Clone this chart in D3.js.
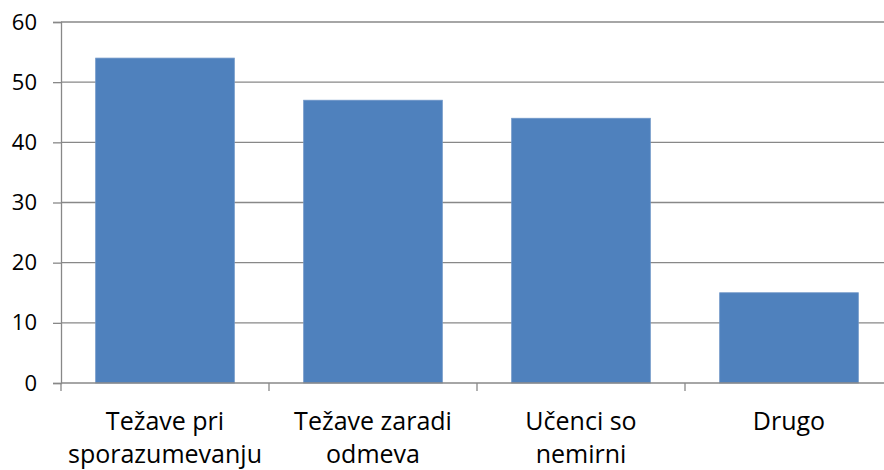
<!DOCTYPE html>
<html>
<head>
<meta charset="utf-8">
<script src="https://cdnjs.cloudflare.com/ajax/libs/d3/7.8.5/d3.min.js"></script>
<style>
  body { margin: 0; background: #fff; }
  text { font-family: "Open Sans", sans-serif; fill: #000; }
</style>
</head>
<body>
<div id="viz"></div>
<script>
// chart data
var categories = [["Težave pri", "sporazumevanju"], ["Težave zaradi", "odmeva"], ["Učenci so", "nemirni"], ["Drugo"]];
var values = [54, 47, 44, 15];
var yTicks = [0, 10, 20, 30, 40, 50, 60];

var margin = {top: 22, right: -9, bottom: 87, left: 61},
    width = 884 - margin.left - margin.right,
    height = 470 - margin.top - margin.bottom;

var svg = d3.select('#viz').append('svg')
    .attr("width", 884)
    .attr("height", 470);

var g = svg.append("g")
    .attr("transform", "translate(" + margin.left + "," + margin.top + ")");

var x = d3.scaleBand()
    .domain(d3.range(categories.length))
    .range([0, width])
    .paddingInner(1 / 3)
    .paddingOuter(1 / 6);

var y = d3.scaleLinear()
    .domain([0, 60])
    .range([height, 0]);

// gridlines
g.selectAll(".grid")
    .data(yTicks.slice(1))
    .enter().append("line")
    .attr("x1", 0)
    .attr("x2", width)
    .attr("y1", function(d) { return y(d); })
    .attr("y2", function(d) { return y(d); })
    .attr("stroke", "#888")
    .attr("stroke-width", 1.3);

// bars
g.selectAll("rect")
    .data(values)
    .enter().append("rect")
    .attr("x", function(d, i) { return x(i); })
    .attr("width", x.bandwidth())
    .attr("y", function(d) { return y(d); })
    .attr("height", function(d) { return height - y(d); })
    .attr("fill", "#4f81bd")
    .attr("stroke", "#6f96c8")
    .attr("stroke-width", 0.8);

// y axis
var yAxis = g.append("g")
    .call(d3.axisLeft(y).tickValues(yTicks).tickSize(8).tickPadding(16));
yAxis.select(".domain").attr("stroke", "#888").attr("stroke-width", 1.3);
yAxis.selectAll(".tick line").attr("stroke", "#888").attr("stroke-width", 1.3);
yAxis.selectAll("text")
    .style("font-size", "22px")
    .style("font-family", "'Open Sans', sans-serif")
    .attr("fill", "#000");

// x axis with category boundary ticks
var step = x.step();
var xAxis = g.append("g")
    .attr("transform", "translate(0," + height + ")");
xAxis.append("line")
    .attr("x1", 0).attr("x2", width)
    .attr("stroke", "#888").attr("stroke-width", 1.3);
xAxis.selectAll(".xt")
    .data(d3.range(categories.length + 1))
    .enter().append("line")
    .attr("x1", function(i) { return i * step; })
    .attr("x2", function(i) { return i * step; })
    .attr("y1", 0).attr("y2", 8)
    .attr("stroke", "#888").attr("stroke-width", 1.3);

xAxis.selectAll(".lbl")
    .data(categories)
    .enter().append("text")
    .attr("text-anchor", "middle")
    .attr("x", function(d, i) { return x(i) + x.bandwidth() / 2; })
    .attr("y", 47)
    .style("font-size", "25px")
    .each(function(d) {
        var t = d3.select(this);
        d.forEach(function(line, k) {
            t.append("tspan")
                .attr("x", t.attr("x"))
                .attr("dy", k === 0 ? 0 : 33)
                .text(line);
        });
    });
</script>
</body>
</html>
